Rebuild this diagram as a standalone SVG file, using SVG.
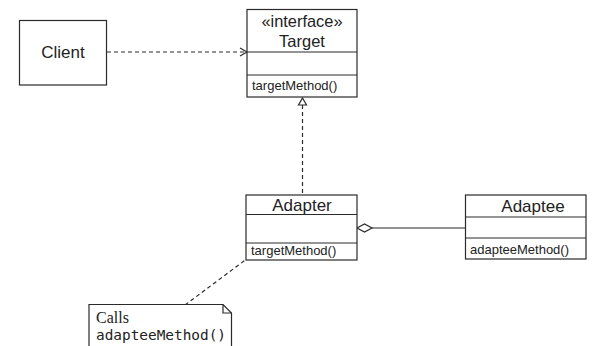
<svg xmlns="http://www.w3.org/2000/svg" width="596" height="346" viewBox="0 0 596 346">
<style>
.box{fill:#fff;stroke:#2a2a2a;stroke-width:1.2}
.ln{fill:none;stroke:#2a2a2a;stroke-width:1.2}
.dash{fill:none;stroke:#2a2a2a;stroke-width:1.2;stroke-dasharray:4 3}
.name{font-family:"Liberation Sans",Arial,sans-serif;font-size:17px;fill:#222;text-anchor:middle}
.meth{font-family:"Liberation Sans",Arial,sans-serif;font-size:13px;fill:#222}
</style>
<rect width="596" height="346" fill="#fff"/>
<g id="connectors">
<line class="dash" x1="107" y1="52" x2="246" y2="52"/>
<polyline class="ln" points="240,48 247,52 240,56"/>
<line class="dash" x1="302.5" y1="105" x2="302.5" y2="195"/>
<polygon class="box" points="302.5,98 306.5,105 298.5,105"/>
<line class="ln" x1="372" y1="228" x2="465" y2="228"/>
<polygon class="box" points="357,228 364.5,224 372,228 364.5,232"/>
<line class="dash" x1="185" y1="305" x2="248" y2="258"/>
</g>
<g id="client">
<rect class="box" x="19.5" y="20.5" width="87" height="64.5"/>
<text class="name" x="63" y="58">Client</text>
</g>
<g id="target">
<rect class="box" x="247" y="9.5" width="110" height="87.5"/>
<line class="ln" x1="247" y1="52" x2="357" y2="52"/>
<line class="ln" x1="247" y1="75" x2="357" y2="75"/>
<text class="name" x="302" y="27" style="font-size:16.4px">«interface»</text>
<text class="name" x="302" y="46.5" style="font-size:16.5px">Target</text>
<text class="meth" x="252" y="90">targetMethod()</text>
</g>
<g id="adapter">
<rect class="box" x="246" y="195" width="111" height="65"/>
<line class="ln" x1="246" y1="214.5" x2="357" y2="214.5"/>
<line class="ln" x1="246" y1="243" x2="357" y2="243"/>
<text class="name" x="302" y="210.5">Adapter</text>
<text class="meth" x="251" y="255">targetMethod()</text>
</g>
<g id="adaptee">
<rect class="box" x="465.5" y="195" width="120.5" height="64"/>
<line class="ln" x1="465.5" y1="217" x2="586" y2="217"/>
<line class="ln" x1="465.5" y1="238" x2="586" y2="238"/>
<text class="name" x="533" y="211.5">Adaptee</text>
<text class="meth" x="470" y="254">adapteeMethod()</text>
</g>
<g id="note">
<path class="box" d="M89,347 V304.5 H223 L231.5,313 V347"/>
<polyline class="ln" points="223,304.5 223,313 231.5,313"/>
<text x="96" y="323" style="font-family:'Liberation Serif','Times New Roman',serif;font-size:16px;fill:#222">Calls</text>
<text x="96" y="340" style="font-family:'DejaVu Sans Mono',monospace;font-size:14.4px;fill:#222">adapteeMethod()</text>
</g>
</svg>
